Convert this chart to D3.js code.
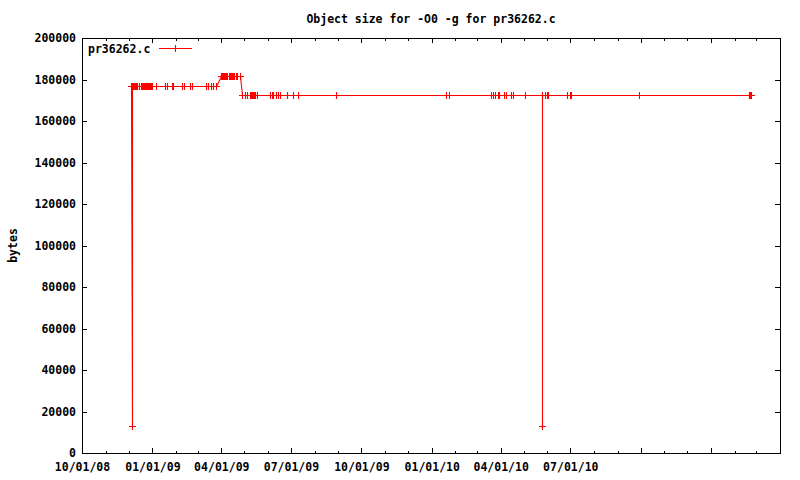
<!DOCTYPE html>
<html>
<head>
<meta charset="utf-8">
<script src="https://cdn.jsdelivr.net/npm/d3@7"></script>
<style>
  html, body { margin: 0; padding: 0; background: #fff; }
  svg { display: block; }
  text { font-family: "DejaVu Sans Mono", "Liberation Mono", monospace; font-weight: bold; font-size: 11.5px; fill: #000; }
</style>
</head>
<body>
<svg id="chart" width="800" height="480"></svg>
<script>
// ---------------- data ----------------
const chartTitle = "Object size for -O0 -g for pr36262.c";
const yAxisLabel = "bytes";
const seriesName = "pr36262.c";

const commitDates = [
  "2008-12-04","2008-12-05","2008-12-05","2008-12-06","2008-12-07","2008-12-08","2008-12-09","2008-12-10",
  "2008-12-12","2008-12-14",
  "2008-12-17","2008-12-18","2008-12-19","2008-12-20","2008-12-21","2008-12-22","2008-12-23","2008-12-24",
  "2008-12-25","2008-12-26","2008-12-27","2008-12-28","2008-12-29","2008-12-30","2008-12-31",
  "2009-01-06","2009-01-17","2009-01-20","2009-01-26","2009-01-28","2009-02-09","2009-02-11",
  "2009-02-19","2009-02-22","2009-03-12","2009-03-15","2009-03-18","2009-03-21","2009-03-25",
  "2009-03-31","2009-04-01","2009-04-02","2009-04-03","2009-04-04","2009-04-05","2009-04-06","2009-04-07",
  "2009-04-08","2009-04-11","2009-04-12","2009-04-13","2009-04-14","2009-04-15","2009-04-16","2009-04-17",
  "2009-04-20","2009-04-22","2009-04-25",
  "2009-04-28","2009-05-02","2009-05-04","2009-05-08","2009-05-09","2009-05-10","2009-05-11","2009-05-12",
  "2009-05-13","2009-05-14","2009-05-15","2009-05-18","2009-06-03","2009-06-06","2009-06-08","2009-06-11",
  "2009-06-14","2009-06-17","2009-06-26","2009-07-04","2009-07-10","2009-08-29",
  "2010-01-19","2010-01-24","2010-03-19","2010-03-22","2010-03-24","2010-03-28","2010-03-30",
  "2010-04-06","2010-04-08","2010-04-14","2010-04-17","2010-05-03","2010-05-25","2010-05-25","2010-05-25",
  "2010-05-29","2010-05-31","2010-06-02","2010-06-27","2010-06-30","2010-07-02","2010-09-29",
  "2011-02-19","2011-02-20","2011-02-21","2011-02-22"
];

const objectBytes = [
  177000,13000,177000,177000,177000,177000,177000,177000,
  177000,177000,
  177000,177000,177000,177000,177000,177000,177000,177000,
  177000,177000,177000,177000,177000,177000,177000,
  177000,177000,177000,177000,177000,177000,177000,
  177000,177000,177000,177000,177000,177000,177000,
  181800,181800,181800,181800,181800,181800,181800,181800,
  181800,181800,181800,181800,181800,181800,181800,181800,
  181800,181800,181800,
  172400,172400,172400,172400,172400,172400,172400,172400,
  172400,172400,172400,172400,172400,172400,172400,172400,
  172400,172400,172400,172400,172400,172400,
  172400,172400,172400,172400,172400,172400,172400,
  172400,172400,172400,172400,172400,172400,13000,172400,
  172400,172400,172400,172400,172400,172400,172400,
  172400,172400,172400,172400
];

const xDomain = ["2008-10-01", "2011-04-01"];
const xTickLabels = ["10/01/08","01/01/09","04/01/09","07/01/09","10/01/09","01/01/10","04/01/10","07/01/10"];
const yTicks = [0,20000,40000,60000,80000,100000,120000,140000,160000,180000,200000];

// ---------------- chart ----------------
const parse = d3.utcParse("%Y-%m-%d");
const fmt = d3.utcFormat("%m/%d/%y");
const data = commitDates.map((d, i) => ({ date: parse(d), v: objectBytes[i] }));

const L = 82, R = 780, T = 38, B = 453;
const svg = d3.select("#chart");

const x = d3.scaleUtc().domain(xDomain.map(parse)).range([L, R]);
const y = d3.scaleLinear().domain([0, 200000]).range([B, T]);
const px = v => Math.round(v) + 0.5;   // snap to pixel centres

const majorX = d3.utcMonth.every(3).range(x.domain()[0], d3.utcDay.offset(x.domain()[1], 1));
const minorX = d3.utcMonth.range(x.domain()[0], d3.utcDay.offset(x.domain()[1], 1));
const labelSet = new Set(xTickLabels);

const gMinorB = svg.append("g").attr("transform", `translate(0,${B})`)
  .call(d3.axisBottom(x).tickValues(minorX).tickSizeInner(-2.5).tickSizeOuter(0).tickFormat(""));
const gMinorT = svg.append("g").attr("transform", `translate(0,${T})`)
  .call(d3.axisTop(x).tickValues(minorX).tickSizeInner(-2.5).tickSizeOuter(0).tickFormat(""));

const gXB = svg.append("g").attr("transform", `translate(0,${B})`)
  .call(d3.axisBottom(x).tickValues(majorX).tickSizeInner(-5).tickSizeOuter(0).tickPadding(10)
    .tickFormat(d => labelSet.has(fmt(d)) ? fmt(d) : ""));
const gXT = svg.append("g").attr("transform", `translate(0,${T})`)
  .call(d3.axisTop(x).tickValues(majorX).tickSizeInner(-5).tickSizeOuter(0).tickFormat(""));

const gYL = svg.append("g").attr("transform", `translate(${L},0)`)
  .call(d3.axisLeft(y).tickValues(yTicks).tickSizeInner(-5).tickSizeOuter(0).tickPadding(6).tickFormat(d3.format("d")));
const gYR = svg.append("g").attr("transform", `translate(${R},0)`)
  .call(d3.axisRight(y).tickValues(yTicks).tickSizeInner(-5).tickSizeOuter(0).tickFormat(""));

[gMinorB, gMinorT, gXB, gXT, gYL, gYR].forEach(g => {
  g.select(".domain").remove();
  g.selectAll("line").attr("stroke", "#000").attr("shape-rendering", "crispEdges");
  g.selectAll("text").attr("font-family", null).attr("font-size", null).attr("fill", "#000");
});
gXB.selectAll("text").attr("dy", "0.71em");

// border
svg.append("rect").attr("x", L).attr("y", T).attr("width", R - L).attr("height", B - T)
  .attr("fill", "none").attr("stroke", "#000").attr("stroke-width", 1).attr("shape-rendering", "crispEdges");

// title
svg.append("text").attr("x", (L + R) / 2).attr("y", 23).attr("text-anchor", "middle").text(chartTitle);

// y label
svg.append("text").attr("transform", `translate(17,${(T + B) / 2}) rotate(-90)`)
  .attr("text-anchor", "middle").text(yAxisLabel);

// line
const red = "#ff0000";
const line = d3.line().x(d => px(x(d.date))).y(d => px(y(d.v)));
svg.append("path").datum(data).attr("d", line).attr("fill", "none").attr("stroke", red)
  .attr("stroke-width", 1.1);

// point markers
const plus = "M-3.5,0H3.5M0,-3.5V3.5";
svg.append("g").selectAll("path").data(data).join("path")
  .attr("transform", d => `translate(${px(x(d.date))},${px(y(d.v))})`)
  .attr("d", plus).attr("stroke", red).attr("stroke-width", 1.1).attr("fill", "none");

// legend
svg.append("text").attr("x", 88).attr("y", 52.5).text(seriesName);
svg.append("line").attr("x1", 159).attr("x2", 192).attr("y1", 48.5).attr("y2", 48.5)
  .attr("stroke", red).attr("stroke-width", 1.1);
svg.append("path").attr("transform", "translate(175.5,48.5)").attr("d", plus)
  .attr("stroke", red).attr("stroke-width", 1.1).attr("fill", "none");
</script>
</body>
</html>
